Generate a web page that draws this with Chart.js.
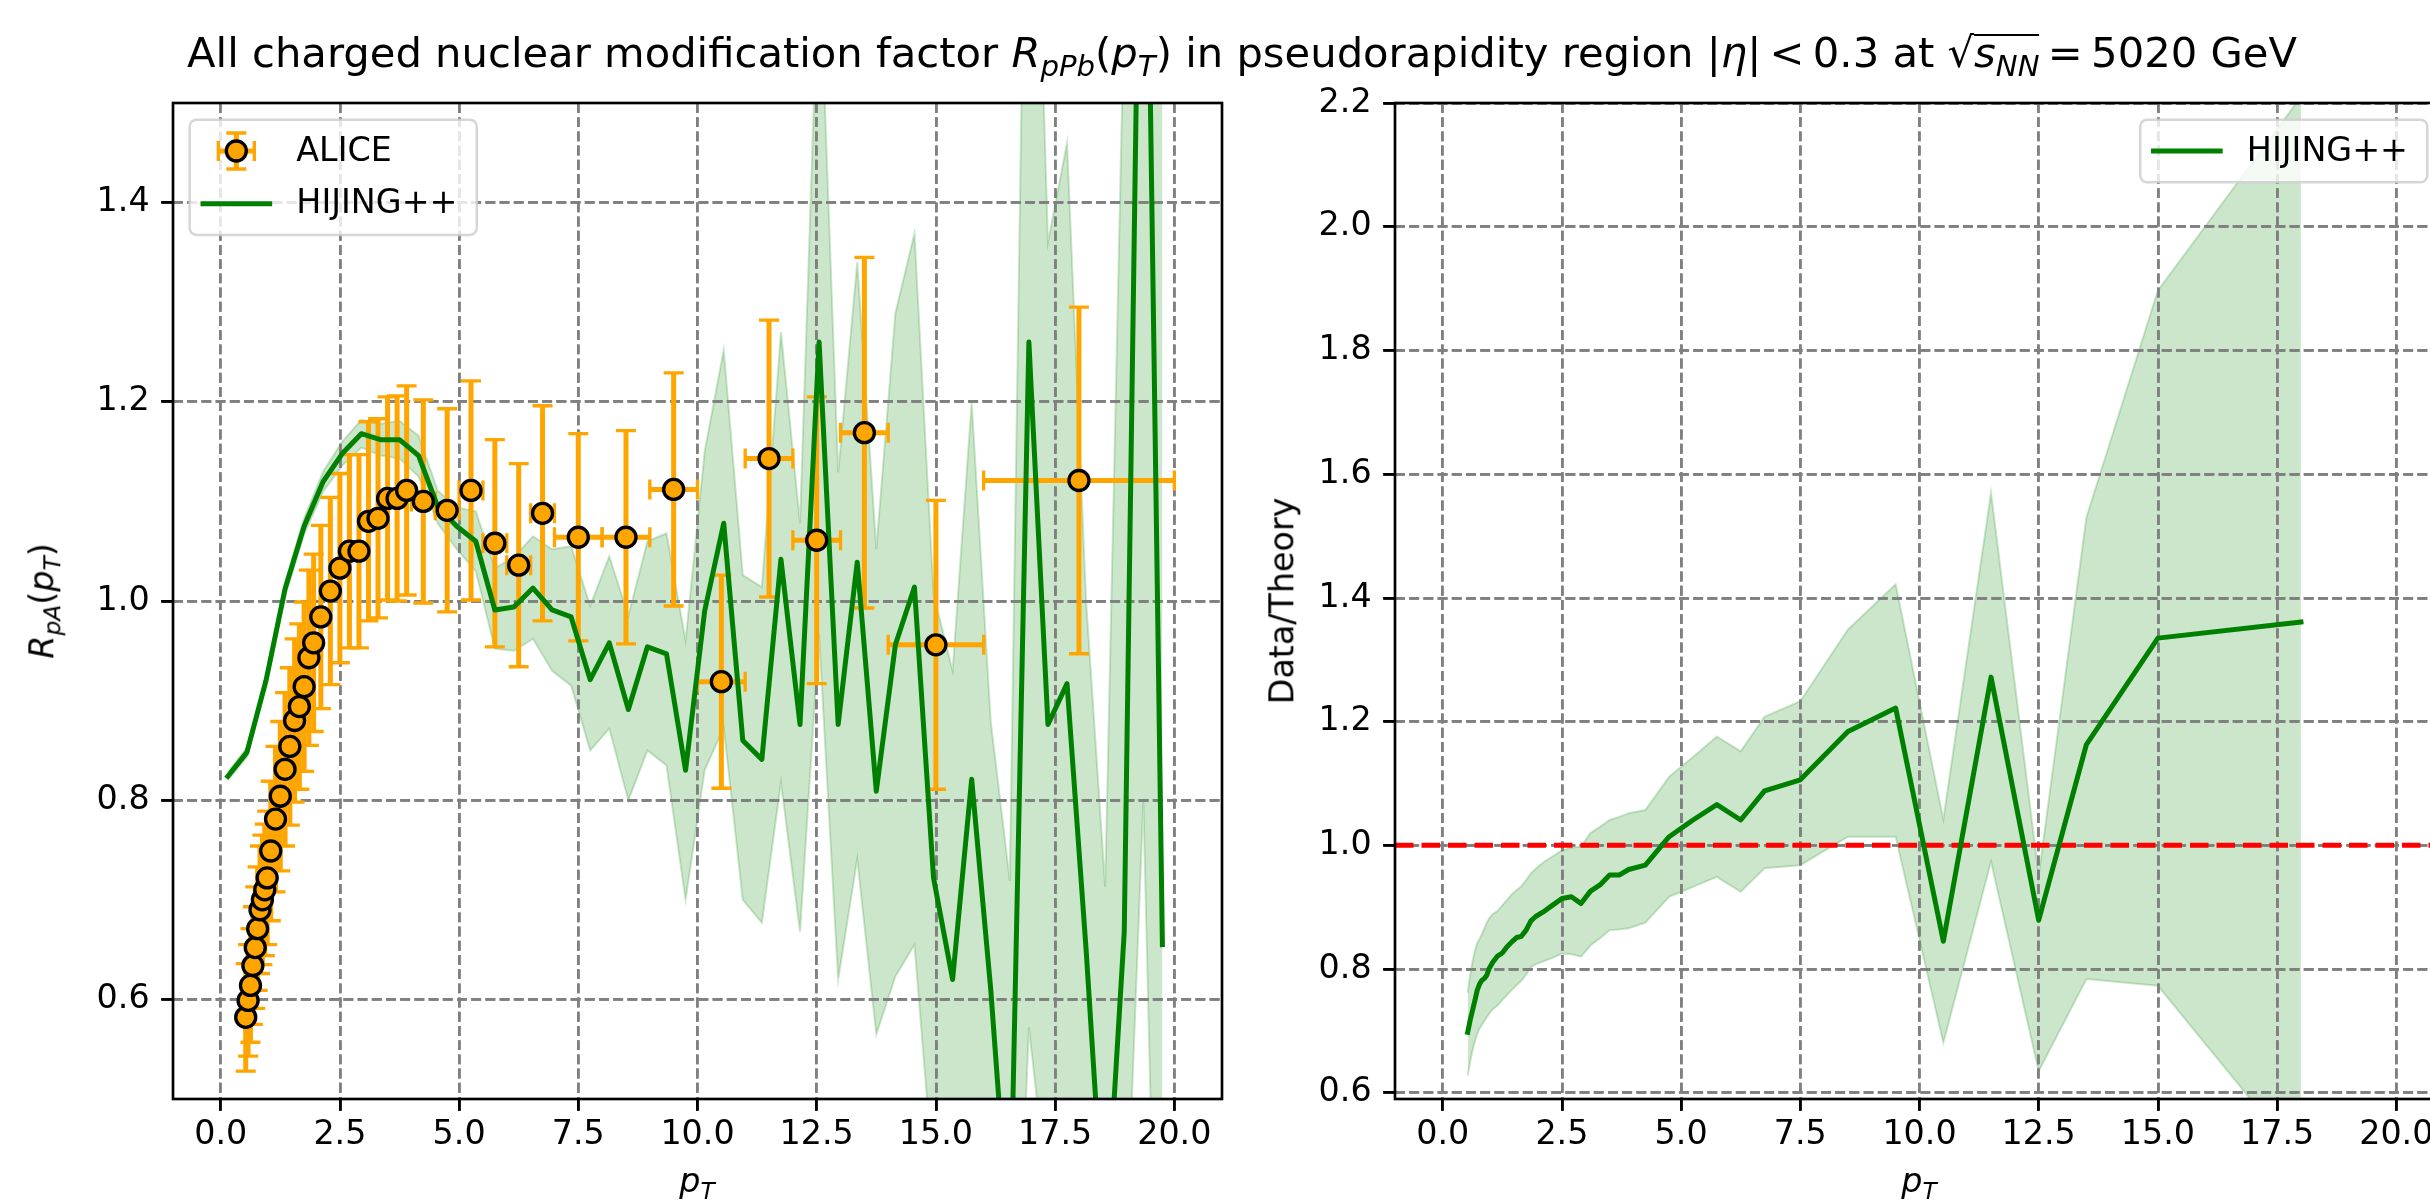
<!DOCTYPE html>
<html>
<head>
<meta charset="utf-8">
<script src="https://cdn.jsdelivr.net/npm/chart.js@4/dist/chart.umd.min.js"></script>
<style>
html,body{margin:0;padding:0;background:#fff;}
body{width:2430px;height:1203px;overflow:hidden;position:relative;font-family:'DejaVu Sans',sans-serif;color:#000;}
.wrap{position:absolute;top:0;width:1300px;height:1203px;}
#wrapL{left:0;}
#wrapR{left:1230px;}
.txt{position:absolute;white-space:nowrap;line-height:1;}
.txt sub{font-size:0.7em;vertical-align:-0.3em;line-height:0;}
#title{font-size:41.7px;left:1242px;top:32px;transform:translateX(-50%);}
.xlab{font-size:33.33px;top:1164px;transform:translateX(-50%);}
.ylab{font-size:33.33px;transform:translate(-50%,-50%) rotate(-90deg);}
.rad{display:inline-block;border-top:2.5px solid #000;line-height:0.8em;}
</style>
</head>
<body>
<div class="wrap" id="wrapL"><canvas id="left" width="1300" height="1203"></canvas></div>
<div class="wrap" id="wrapR"><canvas id="right" width="1300" height="1203"></canvas></div>
<div class="txt" id="title">All charged nuclear modification factor <i>R</i><sub><i>pPb</i></sub>(<i>p</i><sub><i>T</i></sub>) in pseudorapidity region |<i>η</i>|&#8201;&lt;&#8201;0.3 at √<span class="rad"><i>s</i><sub><i>NN</i></sub></span>&#8201;=&#8201;5020 GeV</div>
<div class="txt ylab" style="left:42px;top:601px;"><i>R</i><sub><i>pA</i></sub>(<i>p</i><sub><i>T</i></sub>)</div>
<div class="txt ylab" style="left:1282px;top:601px;">Data/Theory</div>
<div class="txt xlab" style="left:697px;"><i>p</i><sub><i>T</i></sub></div>
<div class="txt xlab" style="left:1919px;"><i>p</i><sub><i>T</i></sub></div>
<script>
// ---------------- data ----------------
const X_TICKS = [0, 2.5, 5, 7.5, 10, 12.5, 15, 17.5, 20];
const X_TICK_LABELS = ['0.0', '2.5', '5.0', '7.5', '10.0', '12.5', '15.0', '17.5', '20.0'];
const LEFT_Y_TICKS = [0.6, 0.8, 1.0, 1.2, 1.4];
const LEFT_Y_TICK_LABELS = ['0.6', '0.8', '1.0', '1.2', '1.4'];
const RIGHT_Y_TICKS = [0.6, 0.8, 1.0, 1.2, 1.4, 1.6, 1.8, 2.0, 2.2];
const RIGHT_Y_TICK_LABELS = ['0.6', '0.8', '1.0', '1.2', '1.4', '1.6', '1.8', '2.0', '2.2'];
const X_RANGE = [-1, 21];
const LEFT_Y_RANGE = [0.5, 1.5];
const RIGHT_Y_RANGE = [0.59, 2.2];

const ALICE_LABEL = 'ALICE';
const HIJING_LABEL = 'HIJING++';

const ALICE_PT = [0.525, 0.575, 0.625, 0.675, 0.725, 0.775, 0.825, 0.875, 0.925, 0.975,
  1.05, 1.15, 1.25, 1.35, 1.45, 1.55, 1.65, 1.75, 1.85, 1.95,
  2.1, 2.3, 2.5, 2.7, 2.9, 3.1, 3.3, 3.5, 3.7, 3.9,
  4.25, 4.75, 5.25, 5.75, 6.25, 6.75,
  7.5, 8.5, 9.5, 10.5, 11.5, 12.5, 13.5, 15, 18];
const ALICE_PT_ERR = [0.025, 0.025, 0.025, 0.025, 0.025, 0.025, 0.025, 0.025, 0.025, 0.025,
  0.05, 0.05, 0.05, 0.05, 0.05, 0.05, 0.05, 0.05, 0.05, 0.05,
  0.1, 0.1, 0.1, 0.1, 0.1, 0.1, 0.1, 0.1, 0.1, 0.1,
  0.25, 0.25, 0.25, 0.25, 0.25, 0.25,
  0.5, 0.5, 0.5, 0.5, 0.5, 0.5, 0.5, 1, 2];
const ALICE_R = [0.582, 0.599, 0.614, 0.634, 0.652, 0.671, 0.690, 0.700, 0.710, 0.722,
  0.749, 0.781, 0.804, 0.831, 0.854, 0.880, 0.894, 0.914, 0.943, 0.958,
  0.984, 1.010, 1.033, 1.050, 1.050, 1.080, 1.083, 1.103, 1.103, 1.111,
  1.100, 1.091, 1.111, 1.058, 1.036, 1.088,
  1.064, 1.064, 1.112, 0.919, 1.143, 1.061, 1.169, 0.956, 1.121];
const ALICE_R_ERR = [0.054, 0.056, 0.057, 0.059, 0.061, 0.062, 0.064, 0.065, 0.066, 0.067,
  0.070, 0.073, 0.075, 0.077, 0.079, 0.082, 0.083, 0.085, 0.088, 0.089,
  0.092, 0.094, 0.095, 0.097, 0.097, 0.100, 0.100, 0.102, 0.103, 0.105,
  0.102, 0.102, 0.110, 0.104, 0.102, 0.108,
  0.104, 0.107, 0.117, 0.107, 0.139, 0.144, 0.176, 0.145, 0.174];

const HIJING_PT = [0.15, 0.55, 0.95, 1.35, 1.75, 2.15, 2.55, 2.95, 3.35, 3.75,
  4.15, 4.55, 4.95, 5.35, 5.75, 6.15, 6.55, 6.95, 7.35, 7.75,
  8.15, 8.55, 8.95, 9.35, 9.75, 10.15, 10.55, 10.95, 11.35, 11.75,
  12.15, 12.55, 12.95, 13.35, 13.75, 14.15, 14.55, 14.95, 15.35, 15.75,
  16.15, 16.55, 16.95, 17.35, 17.75, 18.15, 18.55, 18.95, 19.35, 19.75];
const HIJING_R = [0.824, 0.848, 0.920, 1.012, 1.075, 1.120, 1.148, 1.168, 1.162, 1.162,
  1.146, 1.095, 1.075, 1.060, 0.991, 0.994, 1.013, 0.991, 0.984, 0.921,
  0.958, 0.891, 0.954, 0.947, 0.830, 0.990, 1.078, 0.860, 0.841, 1.042,
  0.876, 1.260, 0.876, 1.039, 0.809, 0.956, 1.014, 0.722, 0.620, 0.821,
  0.610, 0.350, 1.260, 0.876, 0.917, 0.650, 0.350, 0.668, 2.000, 0.655];
const HIJING_R_LOW = [0.820, 0.843, 0.914, 1.005, 1.067, 1.110, 1.136, 1.154, 1.146, 1.143,
  1.125, 1.078, 1.052, 1.030, 0.952, 0.950, 0.962, 0.930, 0.915, 0.850,
  0.872, 0.800, 0.850, 0.835, 0.700, 0.830, 0.873, 0.700, 0.677, 0.818,
  0.668, 0.966, 0.620, 0.741, 0.565, 0.623, 0.655, 0.420, 0.300, 0.450,
  0.300, 0.100, 0.572, 0.400, 0.450, 0.200, 0.000, 0.300, 0.800, 0.000];
const HIJING_R_HIGH = [0.828, 0.853, 0.926, 1.019, 1.083, 1.130, 1.160, 1.182, 1.178, 1.181,
  1.166, 1.111, 1.094, 1.090, 1.033, 1.044, 1.065, 1.052, 1.055, 0.995,
  1.045, 0.985, 1.060, 1.068, 0.960, 1.150, 1.252, 1.026, 1.014, 1.270,
  1.078, 1.660, 1.129, 1.340, 1.052, 1.289, 1.369, 1.007, 0.930, 1.199,
  0.879, 0.719, 2.000, 1.360, 1.460, 1.000, 0.713, 1.600, 3.200, 2.000];

const RATIO = [0.698, 0.717, 0.733, 0.749, 0.766, 0.776, 0.782, 0.785, 0.790, 0.801,
  0.811, 0.821, 0.826, 0.836, 0.844, 0.851, 0.853, 0.863, 0.878, 0.885,
  0.892, 0.903, 0.914, 0.917, 0.906, 0.926, 0.936, 0.952, 0.952, 0.961,
  0.968, 1.014, 1.041, 1.066, 1.041, 1.088,
  1.106, 1.184, 1.222, 0.845, 1.272, 0.879, 1.163, 1.335, 1.361];
const RATIO_LOW = [0.628, 0.650, 0.668, 0.683, 0.695, 0.704, 0.710, 0.716, 0.722, 0.728,
  0.735, 0.741, 0.750, 0.758, 0.766, 0.774, 0.781, 0.791, 0.803, 0.808,
  0.812, 0.818, 0.825, 0.824, 0.820, 0.838, 0.850, 0.863, 0.864, 0.866,
  0.875, 0.917, 0.933, 0.949, 0.925, 0.963,
  0.968, 1.014, 1.014, 0.681, 0.974, 0.635, 0.784, 0.773, 0.490];
const RATIO_HIGH = [0.762, 0.790, 0.812, 0.830, 0.842, 0.849, 0.857, 0.866, 0.875, 0.882,
  0.889, 0.894, 0.903, 0.912, 0.921, 0.928, 0.934, 0.944, 0.955, 0.962,
  0.972, 0.982, 0.992, 0.996, 0.998, 1.020, 1.030, 1.041, 1.046, 1.052,
  1.057, 1.111, 1.143, 1.176, 1.152, 1.208,
  1.233, 1.349, 1.422, 1.042, 1.570, 0.951, 1.530, 1.897, 2.210];
const REFERENCE_LEVEL = 1.0;

// ---------------- styles ----------------
const FONT = "'DejaVu Sans', sans-serif";
const FS = 33.33;
const GREEN = '#008000';
const BAND = 'rgba(0,128,0,0.2)';
const ORANGE = '#FFA500';
const GRID_COLOR = '#808080';

function pts(xs, ys) { return xs.map((x, i) => ({x: x, y: ys[i]})); }

function drawErrorBars(chart, eb) {
  const ctx = chart.ctx, a = chart.chartArea, xs = chart.scales.x, ys = chart.scales.y;
  ctx.save();
  ctx.beginPath(); ctx.rect(a.left, a.top, a.right - a.left, a.bottom - a.top); ctx.clip();
  ctx.strokeStyle = eb.color;
  const cap = 10;
  for (let i = 0; i < eb.x.length; i++) {
    const px = xs.getPixelForValue(eb.x[i]), py = ys.getPixelForValue(eb.y[i]);
    const x0 = xs.getPixelForValue(eb.x[i] - eb.xerr[i]), x1 = xs.getPixelForValue(eb.x[i] + eb.xerr[i]);
    const y0 = ys.getPixelForValue(eb.y[i] - eb.yerr[i]), y1 = ys.getPixelForValue(eb.y[i] + eb.yerr[i]);
    ctx.lineWidth = 5; ctx.lineCap = 'butt';
    ctx.beginPath(); ctx.moveTo(x0, py); ctx.lineTo(x1, py); ctx.moveTo(px, y0); ctx.lineTo(px, y1); ctx.stroke();
    ctx.lineWidth = 3.33;
    ctx.beginPath();
    ctx.moveTo(x0, py - cap); ctx.lineTo(x0, py + cap); ctx.moveTo(x1, py - cap); ctx.lineTo(x1, py + cap);
    ctx.moveTo(px - cap, y0); ctx.lineTo(px + cap, y0); ctx.moveTo(px - cap, y1); ctx.lineTo(px + cap, y1);
    ctx.stroke();
  }
  ctx.restore();
}

function roundRect(ctx, x, y, w, h, r) {
  ctx.beginPath();
  ctx.moveTo(x + r, y); ctx.lineTo(x + w - r, y); ctx.arcTo(x + w, y, x + w, y + r, r);
  ctx.lineTo(x + w, y + h - r); ctx.arcTo(x + w, y + h, x + w - r, y + h, r);
  ctx.lineTo(x + r, y + h); ctx.arcTo(x, y + h, x, y + h - r, r);
  ctx.lineTo(x, y + r); ctx.arcTo(x, y, x + r, y, r); ctx.closePath();
}

function drawLegend(chart, lg) {
  const ctx = chart.ctx, a = chart.chartArea;
  const pad = 0.4 * FS, hl = 2.0 * FS, htp = 0.8 * FS, ls = 0.5 * FS, rowH = 36, axpad = 0.5 * FS;
  ctx.save();
  ctx.font = FS + 'px ' + FONT;
  const labels = lg.items.map(it => chart.data.datasets[it.dataset].label);
  const tw = Math.max(...labels.map(l => ctx.measureText(l).width));
  const w = 2 * pad + hl + htp + tw + 6;
  const h = 2 * pad + lg.items.length * rowH + (lg.items.length - 1) * ls;
  const x = lg.corner === 'upper right' ? a.right - axpad - w : a.left + axpad;
  const y = a.top + axpad;
  roundRect(ctx, x, y, w, h, 7);
  ctx.fillStyle = 'rgba(255,255,255,0.8)'; ctx.fill();
  ctx.lineWidth = 2.5; ctx.strokeStyle = 'rgba(204,204,204,0.8)'; ctx.stroke();
  lg.items.forEach((it, i) => {
    const cy = y + pad + i * (rowH + ls) + rowH / 2;
    const hx0 = x + pad, hx1 = hx0 + hl, hc = (hx0 + hx1) / 2;
    const ds = chart.data.datasets[it.dataset];
    if (it.kind === 'errorbar') {
      ctx.strokeStyle = ORANGE; ctx.lineWidth = 5; ctx.lineCap = 'butt';
      ctx.beginPath(); ctx.moveTo(hc - 18, cy); ctx.lineTo(hc + 18, cy); ctx.moveTo(hc, cy - 18); ctx.lineTo(hc, cy + 18); ctx.stroke();
      ctx.lineWidth = 3.33; ctx.beginPath();
      ctx.moveTo(hc - 18, cy - 10); ctx.lineTo(hc - 18, cy + 10); ctx.moveTo(hc + 18, cy - 10); ctx.lineTo(hc + 18, cy + 10);
      ctx.moveTo(hc - 10, cy - 18); ctx.lineTo(hc + 10, cy - 18); ctx.moveTo(hc - 10, cy + 18); ctx.lineTo(hc + 10, cy + 18);
      ctx.stroke();
      ctx.beginPath(); ctx.arc(hc, cy, 10, 0, Math.PI * 2);
      ctx.fillStyle = ds.backgroundColor; ctx.fill();
      ctx.lineWidth = 3.33; ctx.strokeStyle = ds.borderColor; ctx.stroke();
    } else {
      ctx.strokeStyle = ds.borderColor; ctx.lineWidth = ds.borderWidth; ctx.lineCap = 'square';
      ctx.beginPath(); ctx.moveTo(hx0, cy); ctx.lineTo(hx1, cy); ctx.stroke();
    }
    ctx.fillStyle = '#000'; ctx.textBaseline = 'middle'; ctx.textAlign = 'left';
    ctx.fillText(labels[i], hx1 + htp, cy + 1);
  });
  ctx.restore();
}

const mplExtras = {
  id: 'mplExtras',
  afterDatasetDraw(chart, args, opts) {
    if (!opts || args.index !== opts.regridAfter) return;
    const a = chart.chartArea;
    ['x', 'y'].forEach(k => {
      const s = chart.scales[k];
      if (s && typeof s.drawGrid === 'function') { try { s.drawGrid(a); } catch (e) {} }
    });
    if (opts.errorBars) drawErrorBars(chart, opts.errorBars);
  },
  afterDatasetsDraw(chart) {
    const ctx = chart.ctx, a = chart.chartArea;
    ctx.save(); ctx.lineWidth = 2.67; ctx.strokeStyle = '#000';
    ctx.strokeRect(a.left, a.top, a.right - a.left, a.bottom - a.top);
    ctx.restore();
  },
  afterDraw(chart, args, opts) {
    if (opts && opts.legend) drawLegend(chart, opts.legend);
  }
};
Chart.register(mplExtras);

function axisOpts(range, ticks, labels, isX, size, pad) {
  return {
    type: 'linear', min: range[0], max: range[1],
    afterBuildTicks: s => { s.ticks = ticks.map(v => ({value: v})); },
    afterFit: s => { if (isX) s.height = size; else s.width = size; },
    grid: {display: true, drawOnChartArea: true, drawTicks: true, color: GRID_COLOR, lineWidth: 2.67,
      tickLength: 11.7, tickColor: '#000', tickWidth: 2.67, tickBorderDash: []},
    border: {display: false, dash: [9.9, 4.3]},
    ticks: {autoSkip: false, maxRotation: 0, minRotation: 0, padding: pad, color: '#000',
      font: {family: FONT, size: FS}, callback: (v, i) => labels[i]}
  };
}

function commonOptions(padding, yRange, yTicks, yLabels, yWidth, extras) {
  return {
    responsive: false, animation: false, devicePixelRatio: 1, events: [],
    layout: {padding: padding},
    plugins: {legend: {display: false}, tooltip: {enabled: false}, title: {display: false}, mplExtras: extras},
    scales: {
      x: axisOpts(X_RANGE, X_TICKS, X_TICK_LABELS, true, 104, 4.5),
      y: axisOpts(yRange, yTicks, yLabels, false, yWidth, 11.7)
    }
  };
}

// ---------------- left chart ----------------
new Chart(document.getElementById('left'), {
  type: 'line',
  data: {datasets: [
    {label: ALICE_LABEL, data: pts(ALICE_PT, ALICE_R), showLine: false, order: 0, clip: 0,
      pointRadius: 10, pointBorderWidth: 3.33, backgroundColor: ORANGE, borderColor: '#000',
      pointBackgroundColor: ORANGE, pointBorderColor: '#000'},
    {label: HIJING_LABEL, data: pts(HIJING_PT, HIJING_R), order: 1, clip: 0, borderColor: GREEN,
      backgroundColor: GREEN, borderWidth: 5, pointRadius: 0, tension: 0, fill: false,
      borderJoinStyle: 'round', borderCapStyle: 'square'},
    {label: 'band high', data: pts(HIJING_PT, HIJING_R_HIGH), order: 3, clip: 0, borderColor: BAND,
      backgroundColor: BAND, borderWidth: 2, pointRadius: 0, tension: 0, fill: '+1'},
    {label: 'band low', data: pts(HIJING_PT, HIJING_R_LOW), order: 4, clip: 0, borderColor: BAND,
      backgroundColor: BAND, borderWidth: 2, pointRadius: 0, tension: 0, fill: false}
  ]},
  options: commonOptions({left: 0, top: 103, right: 78, bottom: 0}, LEFT_Y_RANGE, LEFT_Y_TICKS, LEFT_Y_TICK_LABELS, 173, {
    regridAfter: 2,
    errorBars: {x: ALICE_PT, y: ALICE_R, xerr: ALICE_PT_ERR, yerr: ALICE_R_ERR, color: ORANGE},
    legend: {corner: 'upper left', items: [{dataset: 0, kind: 'errorbar'}, {dataset: 1, kind: 'line'}]}
  })
});

// ---------------- right chart ----------------
new Chart(document.getElementById('right'), {
  type: 'line',
  data: {datasets: [
    {label: HIJING_LABEL, data: pts(ALICE_PT, RATIO), order: 0, clip: 0, borderColor: GREEN,
      backgroundColor: GREEN, borderWidth: 5, pointRadius: 0, tension: 0, fill: false,
      borderJoinStyle: 'round', borderCapStyle: 'square'},
    {label: 'reference', data: pts(X_RANGE, [REFERENCE_LEVEL, REFERENCE_LEVEL]), order: 1, clip: 0,
      borderColor: '#FF0000', borderWidth: 5, borderDash: [18.5, 8], pointRadius: 0, fill: false},
    {label: 'band high', data: pts(ALICE_PT, RATIO_HIGH), order: 3, clip: 0, borderColor: BAND,
      backgroundColor: BAND, borderWidth: 2, pointRadius: 0, tension: 0, fill: '+1'},
    {label: 'band low', data: pts(ALICE_PT, RATIO_LOW), order: 4, clip: 0, borderColor: BAND,
      backgroundColor: BAND, borderWidth: 2, pointRadius: 0, tension: 0, fill: false}
  ]},
  options: commonOptions({left: 0, top: 103, right: 86, bottom: 0}, RIGHT_Y_RANGE, RIGHT_Y_TICKS, RIGHT_Y_TICK_LABELS, 165, {
    regridAfter: 2,
    legend: {corner: 'upper right', items: [{dataset: 0, kind: 'line'}]}
  })
});
</script>
</body>
</html>
